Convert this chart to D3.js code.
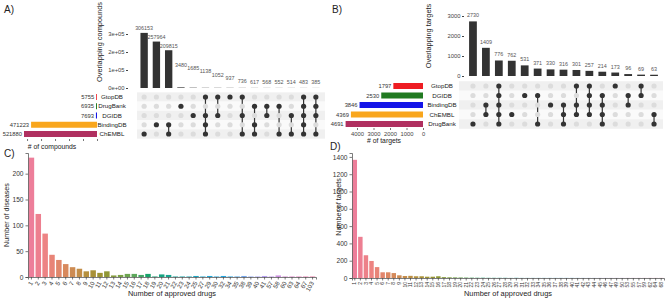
<!DOCTYPE html>
<html>
<head>
<meta charset="utf-8">
<script src="https://cdn.jsdelivr.net/npm/d3@7"></script>
<style>
body { margin: 0; background: #fff; }
svg text { font-family: "Liberation Sans", Arial, sans-serif; }
</style>
</head>
<body>
<div id="chart"></div>
<script>
// ---- Panel A: compounds upset ----
const setsA = ['GtopDB', 'DrugBank', 'DGIDB', 'BindingDB', 'ChEMBL']
const setSizesA = [5755, 6935, 7693, 471223, 521880]
const interCountsA = [306153, 257964, 209815, 3480, 1685, 1138, 1052, 937, 736, 617, 568, 552, 514, 483, 385]
const interSetsA = [
    ['ChEMBL'], ['BindingDB'], ['BindingDB', 'ChEMBL'], ['DrugBank'], ['DGIDB'],
    ['GtopDB', 'DGIDB', 'BindingDB', 'ChEMBL'], ['GtopDB', 'DGIDB'], ['GtopDB'], ['GtopDB', 'DGIDB', 'ChEMBL'],
    ['DrugBank', 'BindingDB', 'ChEMBL'], ['DrugBank', 'DGIDB'], ['DrugBank', 'ChEMBL'], ['DGIDB', 'ChEMBL'],
    ['GtopDB', 'DrugBank', 'DGIDB', 'BindingDB', 'ChEMBL'], ['GtopDB', 'DrugBank', 'DGIDB', 'ChEMBL']
]
const yTicksA = [0, 100000, 200000, 300000]
const yTickLabelsA = ['0e+00', '1e+05', '2e+05', '3e+05']
const setTicksA = [0, 100000, 200000, 300000, 400000, 500000]

// ---- Panel B: targets upset ----
const setsB = ['GtopDB', 'DGIDB', 'BindingDB', 'ChEMBL', 'DrugBank']
const setSizesB = [1797, 2530, 3846, 4369, 4691]
const interCountsB = [2730, 1409, 776, 762, 531, 371, 330, 316, 301, 257, 214, 173, 96, 69, 63]
const interSetsB = [
    ['DrugBank'], ['BindingDB', 'ChEMBL'], ['GtopDB', 'DGIDB', 'BindingDB', 'ChEMBL', 'DrugBank'], ['ChEMBL'],
    ['DGIDB'], ['DGIDB', 'DrugBank'], ['BindingDB'], ['BindingDB', 'ChEMBL', 'DrugBank'],
    ['GtopDB', 'BindingDB', 'ChEMBL'], ['GtopDB', 'DGIDB', 'BindingDB', 'ChEMBL'], ['DGIDB', 'BindingDB', 'ChEMBL', 'DrugBank'],
    ['GtopDB'], ['DGIDB', 'BindingDB'], ['GtopDB', 'DGIDB'], ['ChEMBL', 'DrugBank']
]
const yTicksB = [0, 1000, 2000, 3000]
const setTicksB = [0, 1000, 2000, 3000, 4000]

// ---- Panel C: diseases per number of approved drugs ----
const labelsC = ['1', '2', '3', '4', '5', '6', '7', '8', '9', '10', '11', '12', '13', '14', '15', '16', '17', '18', '19', '20', '21',
    '22', '23', '24', '25', '27', '29', '30', '32', '34', '35', '38', '39', '40', '41', '57', '58', '60', '63', '64', '67', '103']
const valuesC = [231, 122, 84, 43, 33, 25, 19, 16, 11, 13, 8, 11, 3, 4, 6, 6, 4, 6, 1, 5, 4,
    1, 1, 1, 2, 1, 2, 1, 2, 1, 1, 2, 1, 1, 2, 1, 3, 1, 1, 1, 1, 1]
const yTicksC = [0, 50, 100, 150, 200]

// ---- Panel D: targets per number of approved drugs ----
const labelsD = ['1', '2', '3', '4', '5', '6', '7', '8', '9', '10', '11', '12', '13', '14', '15', '16', '17', '18', '19', '20',
    '21', '22', '23', '24', '25', '26', '27', '28', '29', '30', '31', '32', '33', '34', '35', '36', '37', '38', '39', '40',
    '41', '42', '43', '44', '45', '46', '47', '49', '50', '53', '55', '57', '59', '62', '64', '68']
const valuesD = [1366, 476, 263, 197, 126, 66, 66, 57, 31, 23, 25, 20, 20, 15, 15, 20, 10, 8, 7, 6,
    5, 4, 3, 3, 2, 2, 2, 2, 1, 2, 1, 1, 1, 1, 1, 1, 1, 1, 1, 1,
    1, 1, 1, 1, 1, 1, 1, 1, 1, 1, 1, 1, 1, 1, 1, 1]
const yTicksD = [0, 200, 400, 600, 800, 1000, 1200, 1400]

const rowColors = ['#ee1d23', '#217a21', '#1515e8', '#f9a61c', '#b03060']

const svg = d3.select('#chart').append('svg').attr('width', 669).attr('height', 302)

function label(x, y, txt, size, anchor = 'start', color = '#222', rot = 0) {
    const t = svg.append('text').attr('x', x).attr('y', y).text(txt)
        .attr('font-size', size).attr('text-anchor', anchor).attr('fill', color)
    if (rot) t.attr('transform', 'rotate(' + rot + ',' + x + ',' + y + ')')
    return t
}

function drawUpset(o) {
    const g = svg.append('g')
    const x = d3.scalePoint().domain(d3.range(o.counts.length)).range(o.colRange).padding(0.5)
    const step = x.step()
    const y = d3.scaleLinear().domain([0, o.yMax]).range([o.barBase, o.barTop])
    const row = d3.scalePoint().domain(o.sets).range(o.rowRange)
    const rowStep = row.step()

    // intersection bars
    g.selectAll('.ibar').data(o.counts).join('rect')
        .attr('x', (d, i) => x(i) - step * 0.3).attr('width', step * 0.6)
        .attr('y', d => y(d)).attr('height', d => y(0) - y(d)).attr('fill', '#333')
    g.selectAll('.ilab').data(o.counts).join('text')
        .attr('x', (d, i) => x(i)).attr('y', (d, i) => o.labelY(y(d), i)).text(d => d)
        .attr('font-size', 5.4).attr('text-anchor', 'middle').attr('fill', '#555')

    const ax = g.append('g').attr('transform', 'translate(' + o.axisX + ',0)')
        .call(d3.axisLeft(y).tickValues(o.yTicks).tickSize(2).tickPadding(1.5)
            .tickFormat((d, i) => o.yTickLabels ? o.yTickLabels[i] : d))
    ax.select('.domain').remove()
    ax.selectAll('text').attr('font-size', 5.8).attr('fill', '#444')
    ax.selectAll('line').attr('stroke', '#444')
    label(o.yTitleX, o.yTitleY, o.yTitle, 7.4, 'middle', '#222', -90)

    // matrix shading
    g.selectAll('.shade').data(o.sets).join('rect')
        .attr('x', o.matX[0]).attr('width', o.matX[1] - o.matX[0])
        .attr('y', d => row(d) - rowStep / 2).attr('height', rowStep)
        .attr('fill', (d, i) => i % 2 === 0 ? '#f0f0f0' : '#fafafa')

    // dots and connecting lines
    o.members.forEach((m, i) => {
        const ys = m.map(s => row(s))
        if (ys.length > 1) {
            g.append('line').attr('x1', x(i)).attr('x2', x(i))
                .attr('y1', d3.min(ys)).attr('y2', d3.max(ys))
                .attr('stroke', '#333').attr('stroke-width', 1.2)
        }
        o.sets.forEach(s => {
            g.append('circle').attr('cx', x(i)).attr('cy', row(s)).attr('r', 2.6)
                .attr('fill', m.includes(s) ? '#333' : '#dcdcdc')
        })
    })

    // set names
    g.selectAll('.sname').data(o.sets).join('text')
        .attr('x', o.nameX).attr('y', d => row(d) + 2).text(d => d)
        .attr('font-size', 6.2).attr('text-anchor', 'middle').attr('fill', '#222')

    // set size bars
    const xs = d3.scaleLinear().domain(o.setDomain).range([o.setRight, o.setLeft])
    g.selectAll('.sbar').data(o.sizes).join('rect')
        .attr('x', d => xs(d)).attr('width', d => xs(0) - xs(d))
        .attr('y', (d, i) => row(o.sets[i]) - 3).attr('height', 6)
        .attr('fill', (d, i) => rowColors[i])
    g.selectAll('.slab').data(o.sizes).join('text')
        .attr('x', d => xs(d) - 2).attr('y', (d, i) => row(o.sets[i]) + 2).text(d => d)
        .attr('font-size', 5.8).attr('text-anchor', 'end').attr('fill', '#333')

    const sax = g.append('g').attr('transform', 'translate(0,' + o.setAxisY + ')')
        .call(d3.axisBottom(xs).tickValues(o.setTicks).tickSize(2).tickPadding(1.5)
            .tickFormat(o.showSetTicks ? d => d : ''))
    sax.select('.domain').remove()
    sax.selectAll('text').attr('font-size', 5.8).attr('fill', '#444')
    sax.selectAll('line').attr('stroke', '#777')
    label(o.setTitleX, o.setTitleY, o.setTitle, 6.8, 'middle', '#222')
}

drawUpset({
    sets: setsA, sizes: setSizesA, counts: interCountsA, members: interSetsA,
    colRange: [138, 322], barBase: 88, barTop: 34, yMax: 300000, yTicks: yTicksA, yTickLabels: yTickLabelsA,
    labelY: (top, i) => i < 3 ? top - 2.5 : Math.min(84, 67 + (i - 3) * 3.2),
    axisX: 128, yTitleX: 102, yTitleY: 42, yTitle: 'Overlapping compounds',
    rowRange: [97, 134], matX: [137, 325], nameX: 112,
    setDomain: [0, 521880], setRight: 97, setLeft: 24, setTicks: setTicksA, setAxisY: 139, showSetTicks: false,
    setTitleX: 52, setTitleY: 149, setTitle: '# of compounds'
})

drawUpset({
    sets: setsB, sizes: setSizesB, counts: interCountsB, members: interSetsB,
    colRange: [466.5, 660.5], barBase: 76, barTop: 16, yMax: 3000, yTicks: yTicksB, yTickLabels: null,
    labelY: (top, i) => top - 4,
    axisX: 464, yTitleX: 431, yTitleY: 36, yTitle: 'Overlapping targets',
    rowRange: [86, 124], matX: [459, 663], nameX: 442,
    setDomain: [0, 4000], setRight: 423, setLeft: 357, setTicks: setTicksB, setAxisY: 128, showSetTicks: true,
    setTitleX: 384, setTitleY: 143, setTitle: '# of targets'
})

// seaborn-like husl colours, desaturated as its barplot does
function barColors(n) {
    return d3.range(n).map(i => {
        const c = d3.hsl(d3.hcl((i / n + 0.01) * 359 + 6, 62, 66).formatHex())
        c.s = c.s * 0.75
        return c.formatHex()
    })
}

function drawBars(o) {
    const g = svg.append('g')
    const x = d3.scaleBand().domain(o.labels).range(o.xRange).paddingInner(0.2).paddingOuter(0.1)
    const y = d3.scaleLinear().domain([0, o.yMax]).range([o.base, o.top])
    const cols = barColors(o.labels.length)
    g.selectAll('rect').data(o.values).join('rect')
        .attr('x', (d, i) => x(o.labels[i])).attr('width', x.bandwidth())
        .attr('y', d => y(d)).attr('height', d => y(0) - y(d))
        .attr('fill', (d, i) => cols[i])

    const ya = g.append('g').attr('transform', 'translate(' + o.xRange[0] + ',0)')
        .call(d3.axisLeft(y).tickValues(o.yTicks).tickSize(2.5).tickPadding(2).tickFormat(d3.format('d')))
    ya.selectAll('text').attr('font-size', 6.6).attr('fill', '#333')
    ya.selectAll('line, path').attr('stroke', '#444').attr('stroke-width', 0.7)

    const xa = g.append('g').attr('transform', 'translate(0,' + o.base + ')')
        .call(d3.axisBottom(x).tickSize(2.5).tickPadding(2))
    xa.selectAll('line, path').attr('stroke', '#444').attr('stroke-width', 0.7)
    xa.selectAll('text').attr('font-size', o.tickFont).attr('fill', '#333')
        .attr('text-anchor', 'end').attr('dy', '0.32em')
        .attr('transform', 'translate(0,' + o.tickShift + ') rotate(' + o.rot + ')')
        .attr('y', 0).attr('x', 0)

    label((o.xRange[0] + o.xRange[1]) / 2, 296, 'Number of approved drugs', 7.4, 'middle', '#222')
    label(o.yTitleX, o.yTitleY, o.yTitle, 7.2, 'middle', '#222', -90)
}

drawBars({
    labels: labelsC, values: valuesC, xRange: [28, 316], base: 277, top: 153, yMax: 240,
    yTicks: yTicksC, rot: -60, tickShift: 5, tickFont: 6.2, yTitle: 'Number of diseases', yTitleX: 9, yTitleY: 215
})

drawBars({
    labels: labelsD, values: valuesD, xRange: [352, 664], base: 278, top: 153, yMax: 1445,
    yTicks: yTicksD, rot: -90, tickShift: 4, tickFont: 5, yTitle: 'Number of targets', yTitleX: 341, yTitleY: 207
})

label(4, 13, 'A)', 10)
label(332, 13, 'B)', 10)
label(4, 157, 'C)', 10)
label(330, 150, 'D)', 10)
</script>
</body>
</html>
